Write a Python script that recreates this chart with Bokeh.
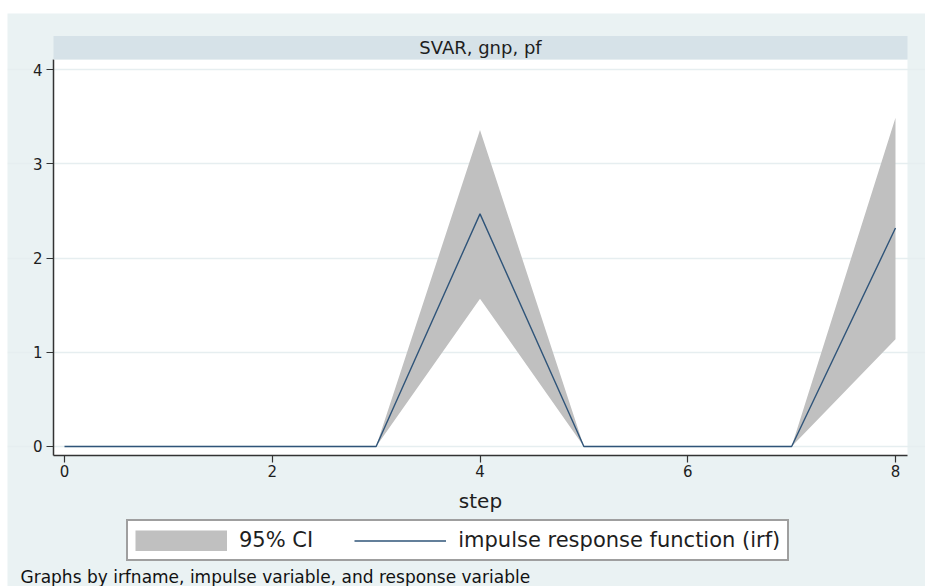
from bokeh.plotting import figure
from bokeh.models import (Range1d, FixedTicker, Legend, LegendItem, Label,
                          BoxAnnotation, ColumnDataSource)
from bokeh.embed import file_html
from bokeh.resources import INLINE

# ---- data ----
step = [0, 1, 2, 3, 4, 5, 6, 7, 8]
irf = [0, 0, 0, 0, 2.47, 0, 0, 0, 2.32]
ci_lower = [0, 0, 0, 0, 1.57, 0, 0, 0, 1.14]
ci_upper = [0, 0, 0, 0, 3.36, 0, 0, 0, 3.49]
x_ticks = [0, 2, 4, 6, 8]
y_ticks = [0, 1, 2, 3, 4]
panel_title = "SVAR, gnp, pf"
x_label = "step"
legend_labels = ["95% CI", "impulse response function (irf)"]
note = "Graphs by irfname, impulse variable, and response variable"

FONT = "DejaVu Sans"
BG = "#eaf2f3"
STRIP = "#d6e2e8"
GRID = "#e6eef0"
LINE = "#2f5479"
CI = "#c0c0c0"
TXT = "#1e1e1e"

# ---- layout constants (data units of the full canvas frame) ----
X_VIEW = (-0.54874, 8.28881)
Y_VIEW = (-1.48660, 4.59782)
PX0, PX1 = -0.10590, 8.11552      # plot region in x
PY0, PY1 = -0.09557, 4.10937      # plot region in y
STRIP_TOP = 4.3589

src = ColumnDataSource(dict(step=step, irf=irf, lo=ci_lower, hi=ci_upper))

p = figure(width=918, height=573, output_backend="svg", toolbar_location=None,
           x_range=Range1d(*X_VIEW), y_range=Range1d(*Y_VIEW),
           min_border=0, min_border_left=0, min_border_right=0,
           min_border_top=0, min_border_bottom=0)
p.margin = (13, 0, 0, 7)
p.background_fill_color = BG
p.border_fill_color = BG
p.outline_line_color = None

# white plotting region
p.add_layout(BoxAnnotation(left=PX0, right=PX1, bottom=PY0, top=PY1,
                           fill_color="white", fill_alpha=1.0, line_color=None,
                           level="image"))

r_ci = p.varea(x="step", y1="lo", y2="hi", source=src, fill_color=CI)
r_irf = p.line(x="step", y="irf", source=src, line_color=LINE, line_width=1.4)
# hidden renderer used only for a full-size legend swatch of the CI band
r_ci_key = p.line(x="step", y="lo", source=src, line_color=CI, line_width=21,
                  visible=False)

# axes (drawn at fixed positions inside the canvas frame)
for ax in (p.xaxis[0], p.yaxis[0]):
    ax.axis_line_color = "#333333"
    ax.axis_line_width = 1.5
    ax.major_tick_line_color = "#333333"
    ax.major_tick_line_width = 1.2
    ax.major_tick_out = 7
    ax.major_tick_in = 0
    ax.minor_tick_line_color = None
    ax.major_label_text_font = FONT
    ax.major_label_text_font_size = "15px"
    ax.major_label_text_color = TXT

p.xaxis.ticker = FixedTicker(ticks=x_ticks)
p.yaxis.ticker = FixedTicker(ticks=y_ticks)
p.xaxis.fixed_location = PY0
p.yaxis.fixed_location = PX0
p.xaxis.bounds = (PX0, PX1)
p.yaxis.bounds = (PY0, PY1)
p.yaxis.major_label_standoff = 4
p.xaxis.major_label_standoff = 3
p.xaxis.axis_label = x_label
p.xaxis.axis_label_text_font = FONT
p.xaxis.axis_label_text_font_style = "normal"
p.xaxis.axis_label_text_font_size = "20px"
p.xaxis.axis_label_text_color = TXT
p.xaxis.axis_label_standoff = 8

p.xgrid.grid_line_color = None
p.ygrid.grid_line_color = GRID
p.ygrid.grid_line_width = 1.5
p.ygrid.bounds = (PX0, PX1)

# panel strip (by-title)
p.add_layout(BoxAnnotation(left=PX0, right=PX1, bottom=PY1, top=STRIP_TOP,
                           fill_color=STRIP, fill_alpha=1.0, line_color=None,
                           level="annotation"))
p.add_layout(Label(x=(PX0 + PX1) / 2, y=(PY1 + STRIP_TOP) / 2,
                   text=panel_title, text_font=FONT, text_font_size="18px",
                   text_align="center", text_baseline="middle",
                   text_color=TXT, level="overlay"))

# legend
legend = Legend(items=[LegendItem(label=legend_labels[0], renderers=[r_ci_key]),
                       LegendItem(label=legend_labels[1], renderers=[r_irf])],
                orientation="horizontal", location=(119, 25),
                glyph_width=92, glyph_height=21, label_standoff=12,
                spacing=41, padding=7, margin=0,
                label_text_font=FONT, label_text_font_size="21px",
                label_text_color=TXT, inactive_fill_alpha=0.0,
                border_line_color="#404040", border_line_width=2,
                background_fill_color="white", background_fill_alpha=1.0)
p.add_layout(legend, "center")

p.add_layout(Label(x=13, y=10, x_units="screen", y_units="screen",
                   text=note, text_font=FONT, text_font_size="17px",
                   text_align="left", text_baseline="middle", text_color="#111111"))

open("out.html", "w").write(file_html(p, INLINE))
